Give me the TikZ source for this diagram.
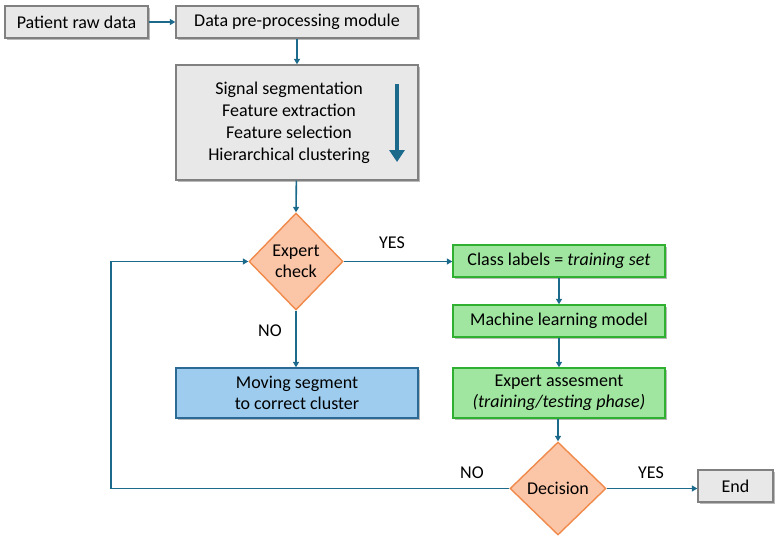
\documentclass[tikz,border=0pt]{standalone}
\usepackage{fontspec}
\setmainfont{Carlito}
\usetikzlibrary{shapes.geometric,arrows.meta,shadows}
\definecolor{arr}{HTML}{1B6A8C}
\definecolor{grayfill}{HTML}{E8E8E8}
\definecolor{grayline}{HTML}{808080}
\definecolor{orfill}{HTML}{FBC5A7}
\definecolor{orline}{HTML}{F08A4B}
\definecolor{grfill}{HTML}{A0E6A0}
\definecolor{grline}{HTML}{30B030}
\definecolor{blfill}{HTML}{9DCCEE}
\definecolor{blline}{HTML}{2A6A94}
\tikzset{
  bodyfont/.style={font=\fontsize{18}{21.5}\selectfont},
  shadowed/.style={drop shadow={shadow xshift=2pt,shadow yshift=-2pt,fill=black!45,opacity=0.6}},
  graybox/.style={draw=grayline,fill=grayfill,line width=1.4pt,shadowed,inner sep=0pt,align=center,bodyfont},
  greenbox/.style={draw=grline,fill=grfill,line width=1.4pt,shadowed,inner sep=0pt,align=center,bodyfont},
  bluebox/.style={draw=blline,fill=blfill,line width=1.4pt,shadowed,inner sep=0pt,align=center,bodyfont},
  dec/.style={diamond,draw=orline,fill=orfill,line width=1.4pt,inner sep=0pt,align=center,bodyfont},
  conn/.style={draw=arr,line width=1.6pt,-{Triangle[length=5.5pt,width=6pt]}},
  lbl/.style={bodyfont}
}
\begin{document}
\begin{tikzpicture}[x=1pt,y=-1pt]
\path[use as bounding box] (0,0) rectangle (780,541);
% boxes
\node[graybox,minimum width=143pt,minimum height=32pt] (raw) at (76.5,22) {Patient raw data};
\node[graybox,minimum width=242pt,minimum height=32pt] (pre) at (297,22) {Data pre-processing module};
\node[graybox,minimum width=242pt,minimum height=115pt] (big) at (297,122.5) {};
\node[lbl,align=center,font=\fontsize{18}{22}\selectfont] (bigtxt) at (289,122.5) {Signal segmentation\\Feature extraction\\Feature selection\\Hierarchical clustering};
\coordinate (bigA) at (397,84);
\coordinate (bigB) at (397,162);
\draw[arr,line width=4.5pt,-{Triangle[length=12pt,width=15pt]}] (bigA) -- (bigB);
\node[dec,minimum width=94pt,minimum height=97pt] (chk) at (296,261.5) {Expert\\check};
\node[greenbox,minimum width=212pt,minimum height=32pt] (cls) at (559,261) {Class labels = \textit{training set}};
\node[greenbox,minimum width=212pt,minimum height=32pt] (ml) at (559,321) {Machine learning model};
\node[greenbox,minimum width=212pt,minimum height=50pt] (ea) at (559,393) {Expert assesment\\\textit{(training/testing phase)}};
\node[bluebox,minimum width=242pt,minimum height=50pt] (mov) at (297,393) {Moving segment\\to correct cluster};
\node[dec,minimum width=96pt,minimum height=93pt] (dcs) at (558,488.5) {Decision};
\node[graybox,minimum width=75pt,minimum height=32pt] (end) at (735.5,486) {End};
% connectors
\draw[conn] (raw) -- (pre);
\draw[conn] (pre) -- (big);
\draw[conn] (big) -- (chk.north);
\draw[conn] (chk.east) -- (cls.west|-chk.east);
\draw[conn] (cls) -- (ml);
\draw[conn] (ml) -- (ea);
\draw[conn] (ea.south-|dcs.north) -- (dcs.north);
\draw[conn] (chk.south) -- (mov.north-|chk.south);
\draw[conn] (dcs.east) -- (end.west|-dcs.east);
\coordinate (lp) at (111,0);
\draw[conn] (dcs.west) -| (lp|-dcs.west) |- (chk.west);
% labels
\node[lbl] (yes1) at (392,243) {YES};
\node[lbl] (no1) at (270,331) {NO};
\node[lbl] (no2) at (472,473) {NO};
\node[lbl] (yes2) at (651,473) {YES};
\end{tikzpicture}
\end{document}
